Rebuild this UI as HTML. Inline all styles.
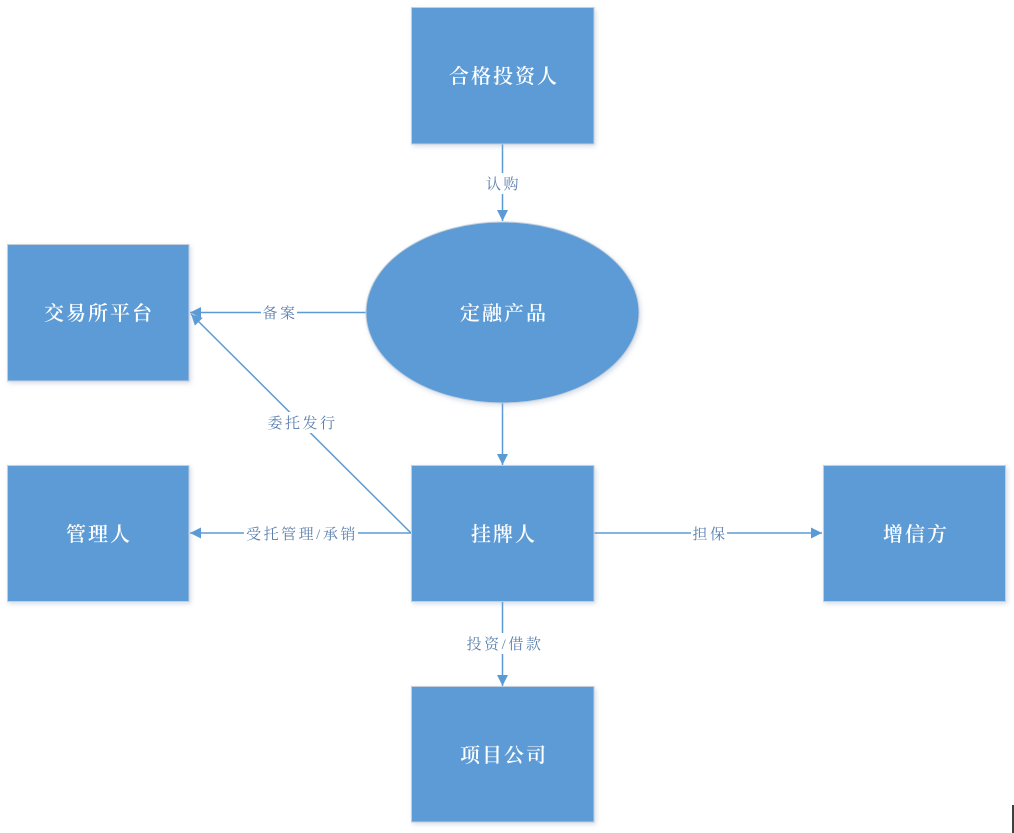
<!DOCTYPE html>
<html><head><meta charset="utf-8">
<style>
html,body{margin:0;padding:0;background:#fff;}
body{width:1014px;height:833px;overflow:hidden;position:relative;}
svg{position:absolute;left:0;top:0;}
.bt{font-family:"Liberation Serif","Noto Serif CJK SC",serif;font-size:20px;fill:#fff;letter-spacing:2px;font-weight:600;}
.lb{font-family:"Liberation Serif","Noto Serif CJK SC",serif;font-size:15px;fill:#5b7fae;letter-spacing:2.5px;}
</style></head>
<body>
<svg width="1014" height="833" viewBox="0 0 1014 833" xmlns="http://www.w3.org/2000/svg">
<defs>
<filter id="sh" x="-10%" y="-10%" width="125%" height="125%">
<feDropShadow dx="1.5" dy="2" stdDeviation="2.5" flood-color="#8fa3bf" flood-opacity="0.35"/>
</filter>
<marker id="ar" markerWidth="12" markerHeight="12" refX="11" refY="5.5" orient="auto" markerUnits="userSpaceOnUse">
<path d="M0,0 L11,5.5 L0,11 Z" fill="#5b9bd5"/>
</marker>
</defs>

<!-- connectors -->
<g stroke="#5b9bd5" stroke-width="1.5" fill="none">
<line x1="502.5" y1="144" x2="502.5" y2="221" marker-end="url(#ar)"/>
<line x1="366" y1="312.5" x2="190" y2="312.5" marker-end="url(#ar)"/>
<line x1="411" y1="533" x2="191" y2="314" marker-end="url(#ar)"/>
<line x1="411" y1="533" x2="190" y2="533" marker-end="url(#ar)"/>
<line x1="594" y1="533" x2="822" y2="533" marker-end="url(#ar)"/>
<line x1="502.5" y1="403" x2="502.5" y2="465" marker-end="url(#ar)"/>
<line x1="502.5" y1="601" x2="502.5" y2="686" marker-end="url(#ar)"/>
</g>

<!-- label backgrounds -->
<g fill="#fff">
<rect x="485" y="173" width="35" height="21"/>
<rect x="261" y="302" width="36" height="21"/>
<rect x="266" y="412" width="71" height="21"/>
<rect x="244" y="523" width="114" height="21"/>
<rect x="691" y="523" width="36" height="21"/>
<rect x="463" y="633" width="81" height="21"/>
</g>

<!-- labels -->
<g class="lb" text-anchor="middle">
<text x="503.5" y="189">认购</text>
<text x="280" y="318">备案</text>
<text x="302.5" y="428">委托发行</text>
<text x="302" y="539">受托管理/承销</text>
<text x="710" y="539">担保</text>
<text x="505" y="649">投资/借款</text>
</g>

<!-- nodes -->
<g fill="#5b9bd5" stroke="#c4cfdb" stroke-width="1" filter="url(#sh)">
<rect x="411.5" y="7.5" width="182.5" height="136.5"/>
<rect x="7.5" y="244.5" width="181.5" height="136.5"/>
<rect x="7.5" y="465.5" width="181.5" height="136"/>
<rect x="411.5" y="465.5" width="182.5" height="136"/>
<rect x="823.5" y="465.5" width="182" height="136"/>
<rect x="411.5" y="686.5" width="182.5" height="135.5"/>
<ellipse cx="502.5" cy="312.5" rx="136.5" ry="90.5"/>
</g>

<g class="bt" text-anchor="middle">
<text x="504" y="83">合格投资人</text>
<text x="99" y="320">交易所平台</text>
<text x="99" y="541">管理人</text>
<text x="504" y="541">挂牌人</text>
<text x="916" y="541">增信方</text>
<text x="504" y="762">项目公司</text>
<text x="504" y="320">定融产品</text>
</g>

<line x1="1013" y1="805" x2="1013" y2="833" stroke="#000" stroke-width="1.5"/>
</svg>
</body></html>
